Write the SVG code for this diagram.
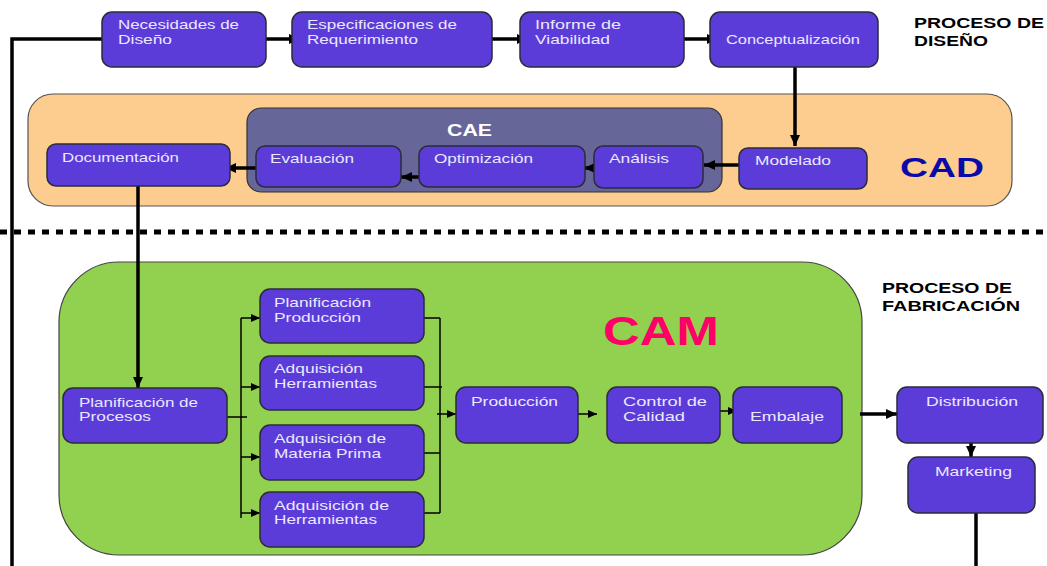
<svg xmlns="http://www.w3.org/2000/svg" width="1047" height="566" viewBox="0 0 1047 566">
<style>
.box{fill:#5B3CD9;stroke:#2b2b3a;stroke-width:1.5}
.t{font-family:"Liberation Sans",Arial,sans-serif;font-size:13.5px;fill:#ECE8FF}
.h{font-family:"Liberation Sans",Arial,sans-serif;font-size:14px;font-weight:bold;fill:#000}
.thick{fill:none;stroke:#000;stroke-width:3.5}
.thin{fill:none;stroke:#000;stroke-width:1.5}
</style>
<defs>
<marker id="ah" markerUnits="userSpaceOnUse" markerWidth="12" markerHeight="10" refX="11" refY="5" orient="auto">
<path d="M0,0 L11,5 L0,10 z" fill="#000"/>
</marker>
<marker id="as" markerUnits="userSpaceOnUse" markerWidth="10" markerHeight="8" refX="9" refY="4" orient="auto">
<path d="M0,0 L9,4 L0,8 z" fill="#000"/>
</marker>
</defs>
<rect width="1047" height="566" fill="#fff"/>

<g id="cad-container">
<rect x="28" y="94" width="984" height="112" rx="25" fill="#FCCD8E" stroke="#555" stroke-width="1.2"/>
<text x="900" y="177" font-family="'Liberation Sans',Arial,sans-serif" font-size="28" font-weight="bold" fill="#0A0AA8" textLength="84" lengthAdjust="spacingAndGlyphs">CAD</text>
</g>
<g id="cae-container">
<rect x="247" y="108" width="475" height="84" rx="14" fill="#666699" stroke="#333" stroke-width="1.2"/>
<text x="447" y="136" font-family="'Liberation Sans',Arial,sans-serif" font-size="16" font-weight="bold" fill="#fff" textLength="45" lengthAdjust="spacingAndGlyphs">CAE</text>
</g>
<g id="cam-container">
<rect x="59" y="262" width="803" height="293" rx="60" fill="#92D050" stroke="#444" stroke-width="1.2"/>
<text x="603" y="345" font-family="'Liberation Sans',Arial,sans-serif" font-size="40" font-weight="bold" fill="#FF0066" textLength="116" lengthAdjust="spacingAndGlyphs">CAM</text>
</g>

<g id="labels">
<text class="h" x="914" y="28" textLength="130" lengthAdjust="spacingAndGlyphs">PROCESO DE</text>
<text class="h" x="914" y="46" textLength="74" lengthAdjust="spacingAndGlyphs">DISEÑO</text>
<text class="h" x="882" y="293" textLength="130" lengthAdjust="spacingAndGlyphs">PROCESO DE</text>
<text class="h" x="882" y="311" textLength="138" lengthAdjust="spacingAndGlyphs">FABRICACIÓN</text>
</g>

<g id="separator">
<line x1="0" y1="232" x2="1047" y2="232" stroke="#000" stroke-width="5" stroke-dasharray="7 7"/>
</g>

<g id="connectors">
<path class="thick" d="M102,39 H12 V566"/>
<path class="thick" d="M266,39 H300" marker-end="url(#ah)"/>
<path class="thick" d="M492,39 H528" marker-end="url(#ah)"/>
<path class="thick" d="M684,39 H718" marker-end="url(#ah)"/>
<path class="thick" d="M795,67 V146" marker-end="url(#ah)"/>
<path class="thick" d="M739,165 H704" stroke-width="3" marker-end="url(#ah)"/>
<path class="thick" d="M594,168 H584" stroke-width="3" marker-end="url(#ah)"/>
<path class="thick" d="M419,177 H401" stroke-width="3" marker-end="url(#ah)"/>
<path class="thick" d="M256,168 H225" stroke-width="3" marker-end="url(#ah)"/>
<path class="thick" d="M138,186 V388" stroke-width="4" marker-end="url(#ah)"/>
<path class="thin" d="M227,417 H247"/>
<path class="thin" d="M241,318 V518"/>
<path class="thin" d="M241,318 H260" marker-end="url(#as)"/>
<path class="thin" d="M241,387 H260" marker-end="url(#as)"/>
<path class="thin" d="M241,457 H260" marker-end="url(#as)"/>
<path class="thin" d="M241,513 H260" marker-end="url(#as)"/>
<path class="thin" d="M420,318 H440 M424,387 H442 M424,453 H440 M424,513 H440"/>
<path class="thin" d="M440,318 V513"/>
<path class="thin" d="M437,414 H456" marker-end="url(#as)"/>
<path class="thin" d="M578,414 H597" marker-end="url(#as)"/>
<path class="thin" d="M720,411 H737" marker-end="url(#as)"/>
<path class="thick" d="M860,414 H897" stroke-width="3" marker-end="url(#ah)"/>
<path class="thick" d="M971,443 V457" stroke-width="3" marker-end="url(#ah)"/>
<path class="thick" d="M976,513 V566" stroke-width="4"/>
</g>

<g id="n-necesidades"><rect class="box" x="102" y="12" width="164" height="55" rx="10"/>
<text class="t" x="118" y="29" textLength="121" lengthAdjust="spacingAndGlyphs">Necesidades de</text>
<text class="t" x="118" y="44" textLength="54" lengthAdjust="spacingAndGlyphs">Diseño</text></g>
<g id="n-especificaciones"><rect class="box" x="292" y="12" width="200" height="55" rx="10"/>
<text class="t" x="307" y="29" textLength="150" lengthAdjust="spacingAndGlyphs">Especificaciones de</text>
<text class="t" x="307" y="44" textLength="111" lengthAdjust="spacingAndGlyphs">Requerimiento</text></g>
<g id="n-informe"><rect class="box" x="520" y="12" width="164" height="55" rx="10"/>
<text class="t" x="535" y="29" textLength="86" lengthAdjust="spacingAndGlyphs">Informe de</text>
<text class="t" x="535" y="44" textLength="75" lengthAdjust="spacingAndGlyphs">Viabilidad</text></g>
<g id="n-conceptualizacion"><rect class="box" x="710" y="12" width="168" height="55" rx="10"/>
<text class="t" x="726" y="44" textLength="134" lengthAdjust="spacingAndGlyphs">Conceptualización</text></g>

<g id="n-documentacion"><rect class="box" x="47" y="144" width="183" height="42" rx="9"/>
<text class="t" x="62" y="162" textLength="117" lengthAdjust="spacingAndGlyphs">Documentación</text></g>
<g id="n-evaluacion"><rect class="box" x="256" y="146" width="145" height="41" rx="9"/>
<text class="t" x="270" y="163" textLength="84" lengthAdjust="spacingAndGlyphs">Evaluación</text></g>
<g id="n-optimizacion"><rect class="box" x="419" y="146" width="166" height="41" rx="9"/>
<text class="t" x="434" y="163" textLength="99" lengthAdjust="spacingAndGlyphs">Optimización</text></g>
<g id="n-analisis"><rect class="box" x="594" y="146" width="109" height="42" rx="9"/>
<text class="t" x="609" y="163" textLength="60" lengthAdjust="spacingAndGlyphs">Análisis</text></g>
<g id="n-modelado"><rect class="box" x="739" y="148" width="128" height="41" rx="9"/>
<text class="t" x="755" y="165" textLength="76" lengthAdjust="spacingAndGlyphs">Modelado</text></g>

<g id="n-planif-procesos"><rect class="box" x="63" y="388" width="164" height="55" rx="10"/>
<text class="t" x="79" y="407" textLength="119" lengthAdjust="spacingAndGlyphs">Planificación de</text>
<text class="t" x="79" y="421" textLength="72" lengthAdjust="spacingAndGlyphs">Procesos</text></g>
<g id="n-planif-produccion"><rect class="box" x="260" y="289" width="164" height="54" rx="10"/>
<text class="t" x="274" y="307" textLength="97" lengthAdjust="spacingAndGlyphs">Planificación</text>
<text class="t" x="274" y="322" textLength="87" lengthAdjust="spacingAndGlyphs">Producción</text></g>
<g id="n-adq-herramientas"><rect class="box" x="260" y="356" width="164" height="54" rx="10"/>
<text class="t" x="274" y="373" textLength="89" lengthAdjust="spacingAndGlyphs">Adquisición</text>
<text class="t" x="274" y="388" textLength="103" lengthAdjust="spacingAndGlyphs">Herramientas</text></g>
<g id="n-adq-materia"><rect class="box" x="260" y="425" width="164" height="55" rx="10"/>
<text class="t" x="274" y="443" textLength="112" lengthAdjust="spacingAndGlyphs">Adquisición de</text>
<text class="t" x="274" y="458" textLength="107" lengthAdjust="spacingAndGlyphs">Materia Prima</text></g>
<g id="n-adq-de-herramientas"><rect class="box" x="260" y="492" width="164" height="55" rx="10"/>
<text class="t" x="274" y="510" textLength="115" lengthAdjust="spacingAndGlyphs">Adquisición  de</text>
<text class="t" x="274" y="524" textLength="103" lengthAdjust="spacingAndGlyphs">Herramientas</text></g>
<g id="n-produccion"><rect class="box" x="456" y="387" width="122" height="56" rx="10"/>
<text class="t" x="471" y="406" textLength="87" lengthAdjust="spacingAndGlyphs">Producción</text></g>
<g id="n-control"><rect class="box" x="607" y="387" width="113" height="56" rx="10"/>
<text class="t" x="623" y="406" textLength="84" lengthAdjust="spacingAndGlyphs">Control  de</text>
<text class="t" x="623" y="421" textLength="62" lengthAdjust="spacingAndGlyphs">Calidad</text></g>
<g id="n-embalaje"><rect class="box" x="733" y="387" width="109" height="56" rx="10"/>
<text class="t" x="750" y="421" textLength="74" lengthAdjust="spacingAndGlyphs">Embalaje</text></g>
<g id="n-distribucion"><rect class="box" x="897" y="387" width="146" height="56" rx="10"/>
<text class="t" x="926" y="406" textLength="92" lengthAdjust="spacingAndGlyphs">Distribución</text></g>
<g id="n-marketing"><rect class="box" x="908" y="457" width="127" height="56" rx="10"/>
<text class="t" x="935" y="476" textLength="77" lengthAdjust="spacingAndGlyphs">Marketing</text></g>
</svg>
